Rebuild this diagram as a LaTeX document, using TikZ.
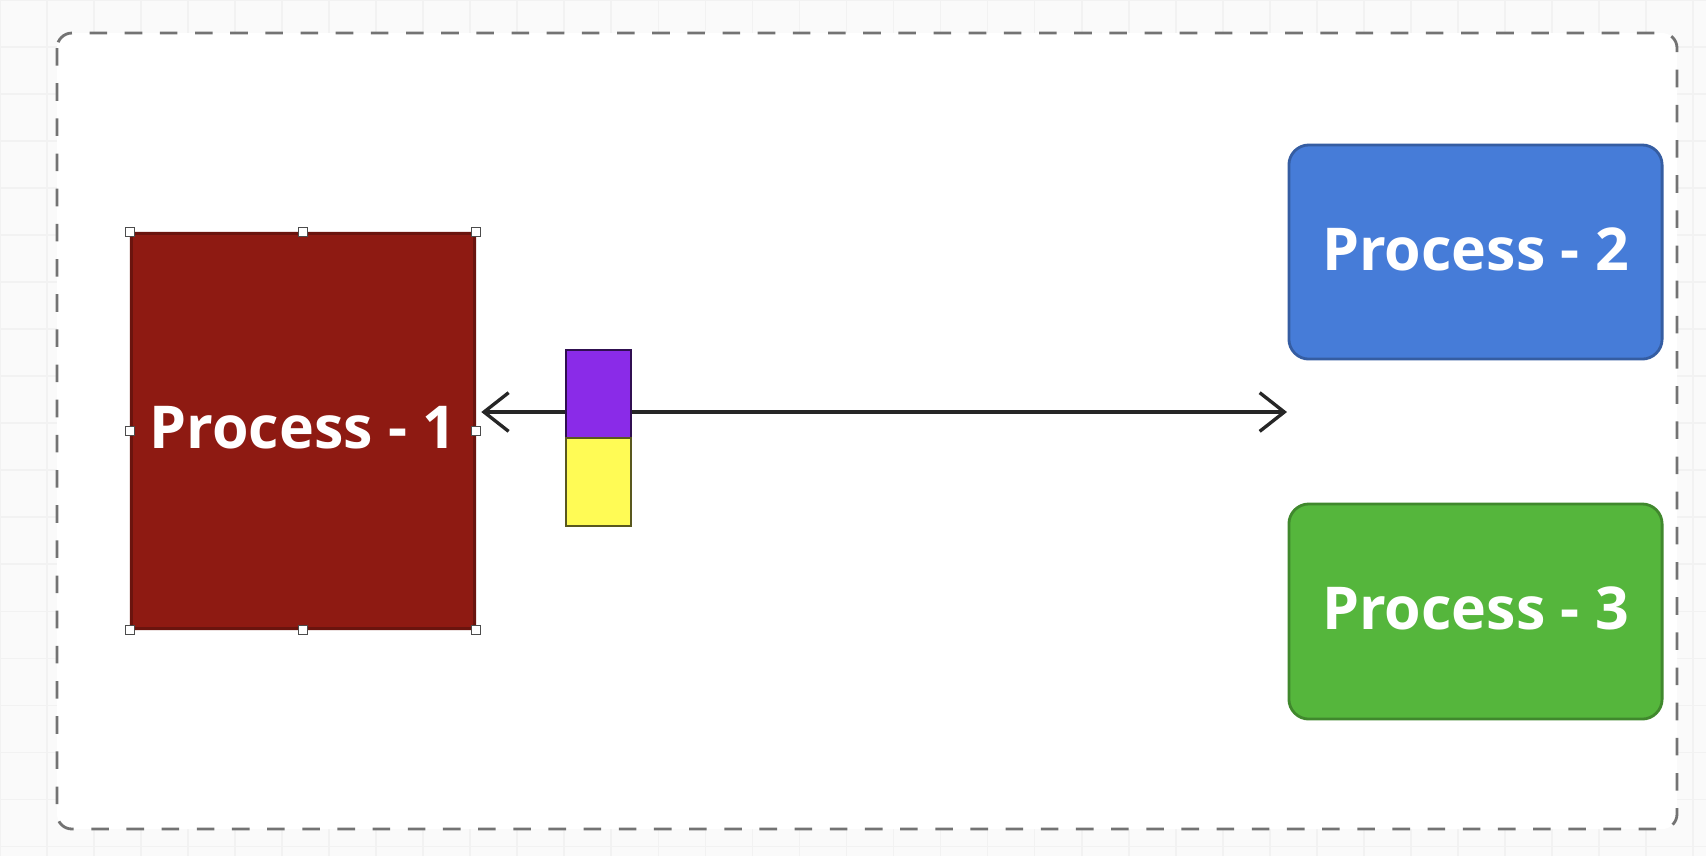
\documentclass[tikz,border=0pt]{standalone}
\usepackage{fontspec}
\setmainfont{Open Sans}
\usepackage{xcolor}
\usepackage{tikz}
\usetikzlibrary{arrows.meta}
\definecolor{procred}{HTML}{8E1A12}
\definecolor{procblue}{HTML}{467CD8}
\definecolor{procgreen}{HTML}{55B63C}
\definecolor{tokpurple}{HTML}{8A2BE8}
\definecolor{tokyellow}{HTML}{FFFB55}
\tikzset{
  proc/.style={rounded corners=0.2cm,draw=#1!75!black,fill=#1,line width=0.8pt,text=white,
    font=\fontsize{16.8}{19}\selectfont\bfseries,inner sep=0pt},
  tok/.style={draw=#1!35!black,fill=#1,line width=0.7pt,minimum width=0.65cm,minimum height=0.88cm,inner sep=0pt},
  handle/.style={draw=black!70,fill=white,line width=0.4pt,minimum size=0.09cm,inner sep=0pt},
  msg/.style={line width=0.95pt,black!85,{Straight Barb[length=7pt,width=11pt]}-{Straight Barb[length=7pt,width=11pt]}},
  frame/.style={dashed,dash pattern=on 5pt off 5pt,black!55,line width=0.8pt,rounded corners=0.15cm}
}

\begin{document}
\begin{tikzpicture}[x=0.01cm,y=-0.01cm]
\useasboundingbox (0,0) rectangle (1706,856);
\fill[black!2] (0,0) rectangle (1706,856);
\draw[black!5,line width=0.5pt,step=0.47cm] (0,0) grid (1706,856);
\draw[frame,fill=white] (57,33) rectangle (1677,829);
\node[proc=procred,rounded corners=0.03cm,minimum width=3.43cm,minimum height=3.95cm] (p1) at (303,431) {\raisebox{0.07cm}{Process - 1}};
\node[proc=procblue,minimum width=3.73cm,minimum height=2.14cm] (p2) at (1475.5,252) {\raisebox{0.06cm}{Process - 2}};
\node[proc=procgreen,minimum width=3.73cm,minimum height=2.15cm] (p3) at (1475.5,611.5) {\raisebox{0.06cm}{Process - 3}};
\coordinate (end) at (1287,412);
\draw[msg,shorten <=1.5pt] (p1.east |- end) -- (end);
\node[tok=tokpurple] (tk1) at (598.5,394) {};
\node[tok=tokyellow] (tk2) at (598.5,482) {};
\foreach \a in {north west,north,north east,west,east,south west,south,south east}
  \node[handle] at (p1.\a) {};
\end{tikzpicture}
\end{document}
